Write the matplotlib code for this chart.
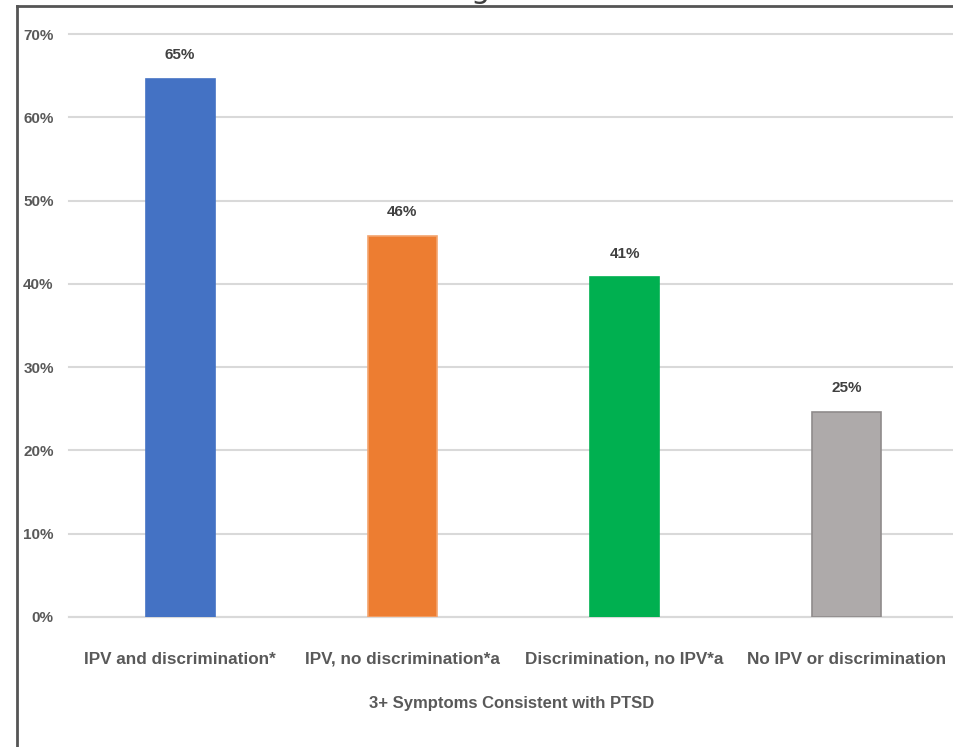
import matplotlib as mpl
mpl.use('Agg')
import matplotlib.pyplot as plt
from matplotlib.lines import Line2D

plt.rcParams['font.family'] = ['Liberation Sans', 'DejaVu Sans']

categories = ['IPV and discrimination*', 'IPV, no discrimination*a',
              'Discrimination, no IPV*a', 'No IPV or discrimination']
values = [64.6, 45.8, 40.8, 24.6]
colors = ['#4472C4', '#ED7D31', '#00B050', '#AEAAAA']
edges = ['#4472C4', '#F4A46E', '#00B050', '#8F8B8B']
yticks = [0, 10, 20, 30, 40, 50, 60, 70]
xlabel = '3+ Symptoms Consistent with PTSD'

W, H = 954, 747
fig = plt.figure(figsize=(W / 100, H / 100), dpi=100)
ax = fig.add_axes([69 / W, (H - 617) / H, (954 - 69) / W, (617 - 34) / H])

x = range(len(categories))
ax.bar(x, values, width=0.31, color=colors, edgecolor=edges, linewidth=1.2, zorder=3)
for xi, v in zip(x, values):
    ax.annotate(f'{v:.0f}%', (xi, v), xytext=(0, 12), textcoords='offset points',
                ha='center', va='bottom', fontsize=11, fontweight='bold', color='#404040')

ax.set_ylim(0, 70)
ax.set_xlim(-0.5, 3.5 - 4 / 222.3)
ax.set_yticks(yticks)
ax.set_yticklabels([f'{t}%' for t in yticks], fontsize=11, fontweight='bold', color='#595959')
ax.set_xticks(list(x))
ax.set_xticklabels(categories, fontsize=12.3, fontweight='bold', color='#595959')
ax.tick_params(axis='y', length=0, pad=11)
ax.tick_params(axis='x', length=0, pad=25)
ax.set_xlabel(xlabel, fontsize=12, fontweight='bold', color='#595959', labelpad=21)

ax.grid(axis='y', color='#D9D9D9', linewidth=1.5, zorder=0)
for line in ax.get_ygridlines():
    line.set_clip_on(False)
for side in ['top', 'right', 'left']:
    ax.spines[side].set_visible(False)
ax.spines['bottom'].set_color('#D9D9D9')
ax.spines['bottom'].set_linewidth(1.5)

# outer frame (top and left edges only)
fy = 1 - 6 / H
fx = 17 / W
fig.add_artist(Line2D([fx, 1], [fy, fy], transform=fig.transFigure, color='#555555', lw=2))
fig.add_artist(Line2D([fx, fx], [0, fy], transform=fig.transFigure, color='#555555', lw=2))

# title above the frame, mostly outside the canvas
fig.text(480 / W, 1 - 4 / H, 'g', ha='center', va='bottom', fontsize=22,
         color='#404040', family='DejaVu Sans')

fig.savefig('out.png', dpi=100)
